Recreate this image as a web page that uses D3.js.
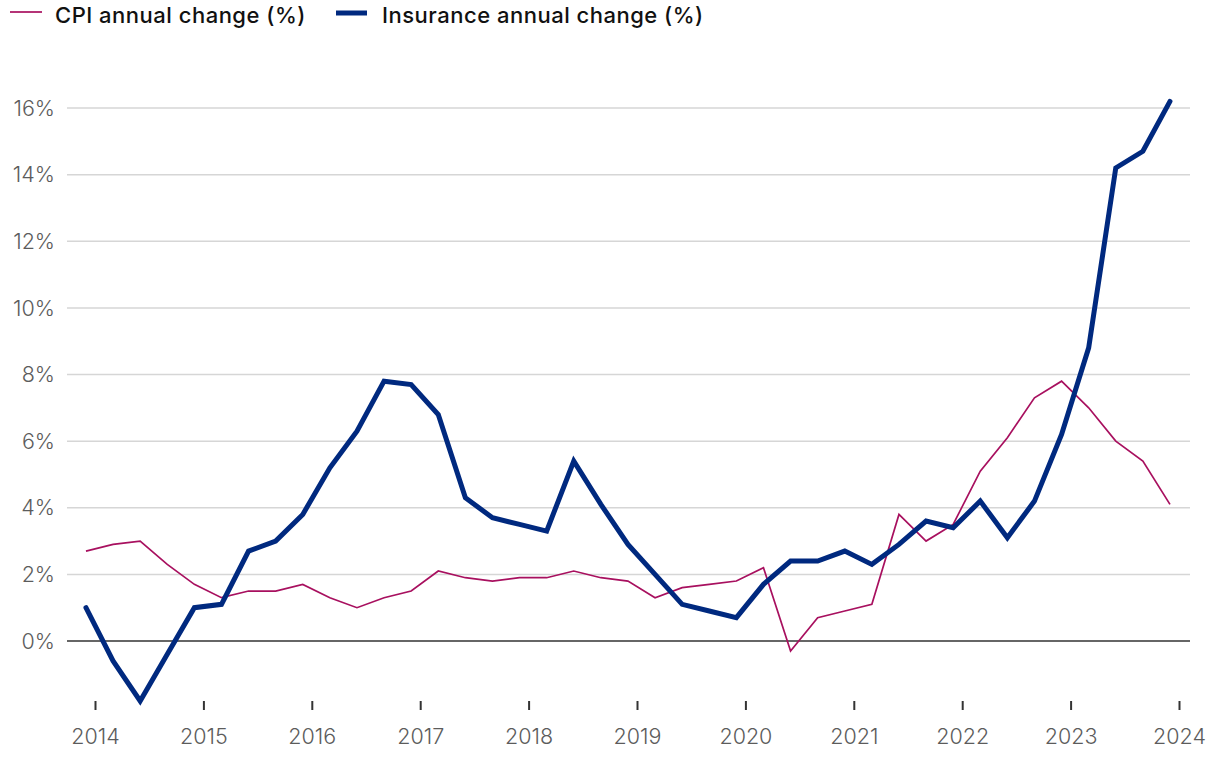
<!DOCTYPE html>
<html>
<head>
<meta charset="utf-8">
<script src="https://cdn.jsdelivr.net/npm/d3@7"></script>
<style>
  html, body { margin: 0; padding: 0; background: #fff; }
  svg { display: block; }
</style>
</head>
<body>
<svg id="chart" width="1220" height="758"></svg>
<script>
// Quarterly observations, Dec 2013 .. Dec 2023
const quarters = [
  "2013-12","2014-03","2014-06","2014-09","2014-12","2015-03","2015-06","2015-09","2015-12",
  "2016-03","2016-06","2016-09","2016-12","2017-03","2017-06","2017-09","2017-12",
  "2018-03","2018-06","2018-09","2018-12","2019-03","2019-06","2019-09","2019-12",
  "2020-03","2020-06","2020-09","2020-12","2021-03","2021-06","2021-09","2021-12",
  "2022-03","2022-06","2022-09","2022-12","2023-03","2023-06","2023-09","2023-12"
];
const cpiChange = [
  2.7, 2.9, 3.0, 2.3, 1.7, 1.3, 1.5, 1.5, 1.7,
  1.3, 1.0, 1.3, 1.5, 2.1, 1.9, 1.8, 1.9,
  1.9, 2.1, 1.9, 1.8, 1.3, 1.6, 1.7, 1.8,
  2.2, -0.3, 0.7, 0.9, 1.1, 3.8, 3.0, 3.5,
  5.1, 6.1, 7.3, 7.8, 7.0, 6.0, 5.4, 4.1
];
const insuranceChange = [
  1.0, -0.6, -1.8, -0.4, 1.0, 1.1, 2.7, 3.0, 3.8,
  5.2, 6.3, 7.8, 7.7, 6.8, 4.3, 3.7, 3.5,
  3.3, 5.4, 4.1, 2.9, 2.0, 1.1, 0.9, 0.7,
  1.7, 2.4, 2.4, 2.7, 2.3, 2.9, 3.6, 3.4,
  4.2, 3.1, 4.2, 6.2, 8.8, 14.2, 14.7, 16.2
];
const yearTicks = [2014, 2015, 2016, 2017, 2018, 2019, 2020, 2021, 2022, 2023, 2024];
const yTicks = [0, 2, 4, 6, 8, 10, 12, 14, 16];
const seriesNames = ["CPI annual change (%)", "Insurance annual change (%)"];

const toYear = s => { const [y, m] = s.split("-").map(Number); return y + (m - 1) / 12; };

const svg = d3.select("#chart");
const plotLeft = 67, plotRight = 1190;
const x = d3.scaleLinear().domain([2014, 2024]).range([95, 1179]);
const y = d3.scaleLinear().domain([0, 16]).range([641, 108]);

const font = "Inter, 'Open Sans', sans-serif";
const labelColor = "#5c5c5c";

// gridlines
svg.append("g").selectAll("line")
  .data(yTicks.filter(d => d !== 0))
  .join("line")
  .attr("x1", plotLeft).attr("x2", plotRight)
  .attr("y1", d => y(d)).attr("y2", d => y(d))
  .attr("stroke", "#d6d6d6").attr("stroke-width", 1.5);

// y labels
svg.append("g").selectAll("text")
  .data(yTicks)
  .join("text")
  .attr("x", 55).attr("y", d => y(d))
  .attr("dy", "0.36em")
  .attr("text-anchor", "end")
  .attr("font-family", font).attr("font-size", 21.5).attr("font-weight", 300)
  .attr("fill", labelColor)
  .text(d => d + "%");

// zero line
svg.append("line")
  .attr("x1", plotLeft).attr("x2", plotRight)
  .attr("y1", y(0)).attr("y2", y(0))
  .attr("stroke", "#666").attr("stroke-width", 2);

// x axis
const xAxis = d3.axisBottom(x).tickValues(yearTicks).tickFormat(d3.format("d")).tickSize(9).tickPadding(19);
const gx = svg.append("g").attr("transform", "translate(0,701)").call(xAxis);
gx.select(".domain").remove();
gx.selectAll(".tick line").attr("stroke", "#333").attr("stroke-width", 2);
gx.selectAll(".tick text")
  .attr("font-family", font).attr("font-size", 21.5).attr("font-weight", 300)
  .attr("fill", labelColor);

const cpiData = quarters.map((q, i) => ({ t: toYear(q), v: cpiChange[i] }));
const insData = quarters.map((q, i) => ({ t: toYear(q), v: insuranceChange[i] }));
const line = d3.line().x(d => x(d.t)).y(d => y(d.v));

const cpiColor = "#a8105f", insColor = "#00297f";

svg.append("path").datum(cpiData)
  .attr("d", line).attr("fill", "none")
  .attr("stroke", cpiColor).attr("stroke-width", 1.7).attr("stroke-linejoin", "miter");

svg.append("path").datum(insData)
  .attr("d", line).attr("fill", "none")
  .attr("stroke", insColor).attr("stroke-width", 5).attr("stroke-linejoin", "miter").attr("stroke-linecap", "round");

// legend
const legend = svg.append("g");
legend.append("line").attr("x1", 10).attr("x2", 42).attr("y1", 12).attr("y2", 12)
  .attr("stroke", cpiColor).attr("stroke-width", 1.7);
legend.append("text").attr("x", 55).attr("y", 23)
  .attr("font-family", font).attr("font-size", 22).attr("font-weight", 500)
  .attr("letter-spacing", 0.5).attr("fill", "#111")
  .text(seriesNames[0]);
legend.append("line").attr("x1", 336).attr("x2", 367).attr("y1", 13).attr("y2", 13)
  .attr("stroke", insColor).attr("stroke-width", 5);
legend.append("text").attr("x", 382).attr("y", 23)
  .attr("font-family", font).attr("font-size", 22).attr("font-weight", 500)
  .attr("letter-spacing", 0.5).attr("fill", "#111")
  .text(seriesNames[1]);
</script>
</body>
</html>
